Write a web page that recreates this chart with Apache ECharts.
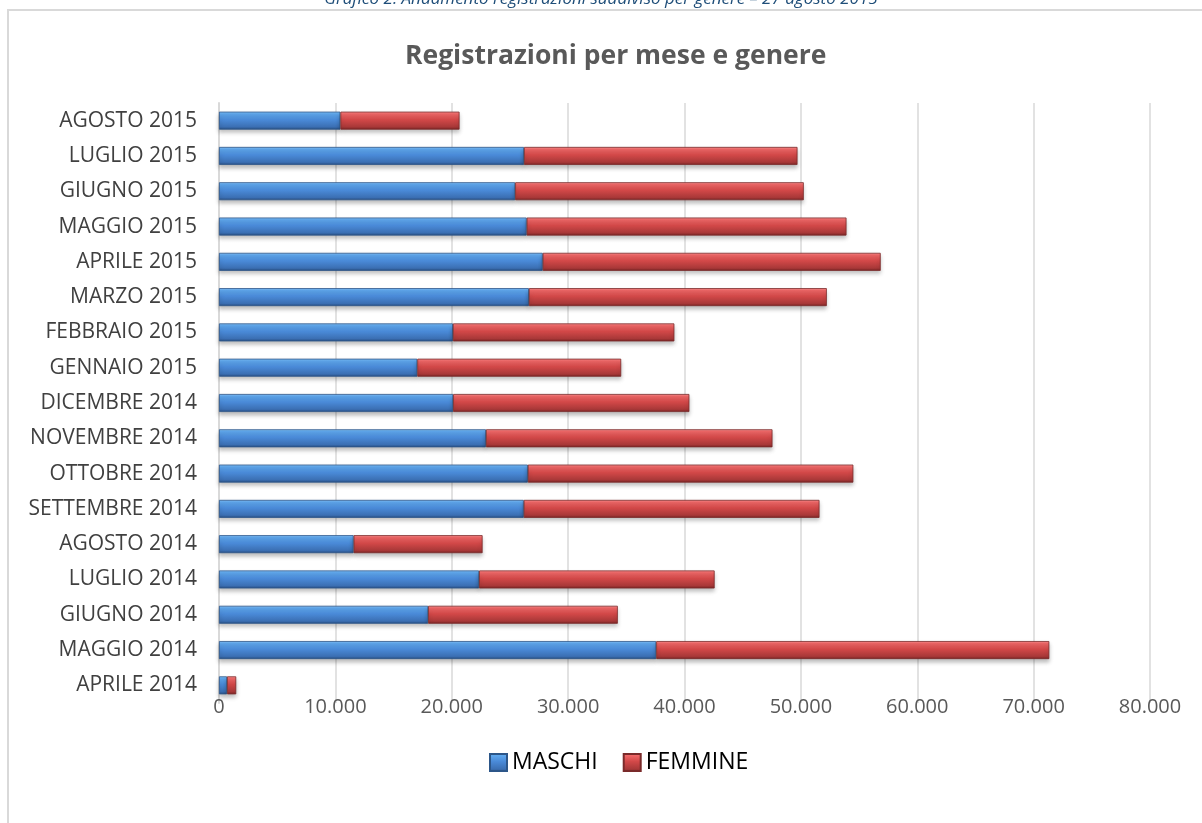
<!DOCTYPE html>
<html>
<head>
<meta charset="utf-8">
<script src="https://cdn.jsdelivr.net/npm/echarts@6/dist/echarts.min.js"></script>
<style>
    html, body { margin: 0; padding: 0; background: #fff; }
    #chart { width: 1202px; height: 823px; }
</style>
</head>
<body>
<div id="chart"></div>
<script>
    // mesi dal basso verso l'alto
    var mesi = ['APRILE 2014', 'MAGGIO 2014', 'GIUGNO 2014', 'LUGLIO 2014', 'AGOSTO 2014',
        'SETTEMBRE 2014', 'OTTOBRE 2014', 'NOVEMBRE 2014', 'DICEMBRE 2014', 'GENNAIO 2015',
        'FEBBRAIO 2015', 'MARZO 2015', 'APRILE 2015', 'MAGGIO 2015', 'GIUGNO 2015',
        'LUGLIO 2015', 'AGOSTO 2015'];
    var maschi = [690, 37570, 17970, 22350, 11570, 26190, 26540, 22940, 20120, 17040,
        20100, 26630, 27820, 26440, 25450, 26210, 10430];
    var femmine = [790, 33780, 16300, 20240, 11080, 25410, 27970, 24620, 20300, 17520,
        19030, 25600, 29040, 27480, 24800, 23500, 10240];

    var font = '"Open Sans", "Noto Sans", sans-serif';

    function grad(c) {
        return new echarts.graphic.LinearGradient(0, 0, 0, 1, [
            { offset: 0, color: c[0] },
            { offset: 0.12, color: c[1] },
            { offset: 0.45, color: c[2] },
            { offset: 0.85, color: c[3] },
            { offset: 1, color: c[4] }
        ]);
    }
    var blu = grad(['#8cc6f7', '#5fa8ee', '#4a8ad8', '#3b6fb3', '#284d80']);
    var rosso = grad(['#fb9696', '#f06868', '#d24848', '#a83838', '#782424']);

    function migliaia(v) {
        return String(v).replace(/\B(?=(\d{3})+(?!\d))/g, '.');
    }

    var chart = echarts.init(document.getElementById('chart'));
    chart.setOption({
        backgroundColor: '#fff',
        animation: false,
        graphic: [
            {
                type: 'rect',
                shape: { x: 8, y: 10, width: 1210, height: 830 },
                style: { fill: 'none', stroke: '#d9d9d9', lineWidth: 2 }
            },
            {
                type: 'text',
                left: 'center',
                top: -9,
                style: {
                    text: 'Grafico 2: Andamento registrazioni suddiviso per genere – 27 agosto 2015',
                    font: 'italic 17px ' + font,
                    fill: '#1f4e79'
                }
            }
        ],
        title: {
            text: 'Registrazioni per mese e genere',
            left: 400,
            top: 38,
            textStyle: { fontFamily: font, fontSize: 26.5, fontWeight: 'bold', color: '#595959' }
        },
        legend: {
            bottom: 44,
            left: 484,
            itemWidth: 17,
            itemHeight: 17,
            itemGap: 25,
            textStyle: { fontFamily: font, fontSize: 23, color: '#000' },
            data: [
                { name: 'MASCHI', icon: 'rect', itemStyle: { color: blu } },
                { name: 'FEMMINE', icon: 'rect', itemStyle: { color: rosso } }
            ]
        },
        grid: { left: 219, right: 52, top: 103, bottom: 120 },
        xAxis: {
            type: 'value',
            min: 0,
            max: 80000,
            interval: 10000,
            axisLine: { show: false },
            axisTick: { show: false },
            splitLine: { lineStyle: { color: '#d9d9d9', width: 1.5 } },
            axisLabel: {
                formatter: migliaia,
                margin: -6,
                fontFamily: font,
                fontSize: 20,
                color: '#595959'
            }
        },
        yAxis: {
            type: 'category',
            data: mesi,
            axisLine: { lineStyle: { color: '#d9d9d9', width: 2 } },
            axisTick: { show: false },
            axisLabel: { margin: 22, fontFamily: font, fontSize: 21, color: '#404040' }
        },
        series: [
            {
                name: 'MASCHI',
                type: 'bar',
                stack: 'tot',
                barWidth: 18,
                data: maschi,
                itemStyle: {
                    color: blu,
                    borderColor: '#2c5689',
                    borderWidth: 0.8,
                    shadowColor: 'rgba(0,0,0,0.25)',
                    shadowBlur: 4,
                    shadowOffsetY: 3
                }
            },
            {
                name: 'FEMMINE',
                type: 'bar',
                stack: 'tot',
                barWidth: 18,
                data: femmine,
                itemStyle: {
                    color: rosso,
                    borderColor: '#7a2a2a',
                    borderWidth: 0.8,
                    shadowColor: 'rgba(0,0,0,0.25)',
                    shadowBlur: 4,
                    shadowOffsetY: 3
                }
            }
        ]
    });
</script>
</body>
</html>
